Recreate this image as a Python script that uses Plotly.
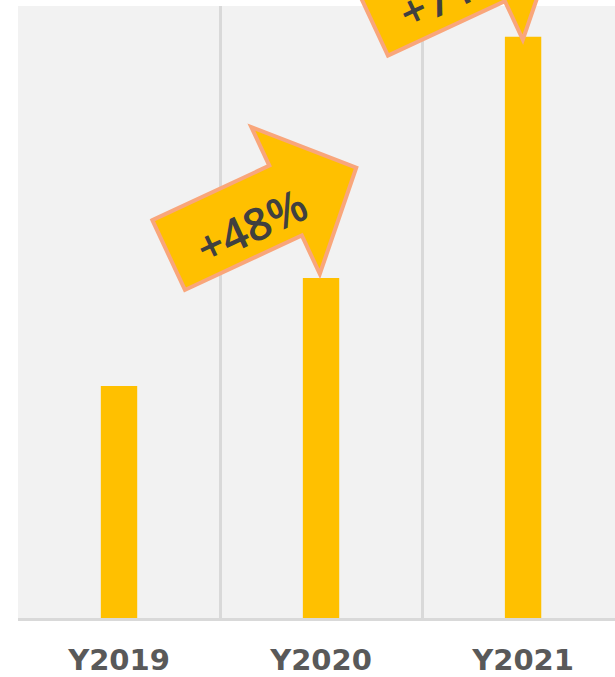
import math
import plotly.graph_objects as go

# ---- data ----
categories = ["Y2019", "Y2020", "Y2021"]
values = [40, 58.6, 100.2]
growth_labels = ["+48%", "+71%"]
growth_targets = [1, 2]          # index of the bar each growth arrow points at

# ---- styling ----
Y_MAX = 105.5
X_RANGE = [-0.5, 2.455]
BAR_COLOR = "#FFC000"
ARROW_FILL = "#FFC000"
ARROW_LINE = "#F9A67B"
BG = "#F2F2F2"
GRID = "#D9D9D9"
tip_nudges = [(-2, 1), (-1, -6)]  # pixel nudges of the arrow tip vs bar top (dx, dy_up)

theta = math.radians(25)
ux, uy = math.cos(theta), math.sin(theta)      # along shaft (y up)
wx, wy = math.sin(theta), -math.cos(theta)     # perpendicular, pointing "down" (y up)

# arrow outline in local coords (u along shaft, v across), anchor = lower barb tip
W_C = -83.5
local_pts = [(-127, -38.5), (2, -38.5), (2, -81), (80, 0), (2, 81), (2, 38.5), (-127, 38.5)]


def to_px(u, v):
    w = W_C + v
    return (u * ux + w * wx, u * uy + w * wy)


def paper_x(i):
    return (i - X_RANGE[0]) / (X_RANGE[1] - X_RANGE[0])


def paper_y(v):
    return v / Y_MAX


fig = go.Figure(
    go.Bar(
        x=categories,
        y=values,
        width=0.18,
        marker=dict(color=BAR_COLOR, line=dict(width=0)),
        hoverinfo="skip",
    )
)

shapes = []
annotations = []
for lab, tgt, (ndx, ndy) in zip(growth_labels, growth_targets, tip_nudges):
    pts = [to_px(u, v) for u, v in local_pts]
    pts = [(x + ndx, y + ndy) for x, y in pts]
    path = "M " + " L ".join(f"{x:.2f},{y:.2f}" for x, y in pts) + " Z"
    shapes.append(
        dict(
            type="path",
            xref="paper",
            yref="paper",
            xsizemode="pixel",
            ysizemode="pixel",
            xanchor=paper_x(tgt),
            yanchor=paper_y(values[tgt]),
            path=path,
            fillcolor=ARROW_FILL,
            line=dict(color=ARROW_LINE, width=4),
            layer="above",
        )
    )
    tx, ty = to_px(-40, 7.5)
    annotations.append(
        dict(
            xref="paper",
            yref="paper",
            x=paper_x(tgt),
            y=paper_y(values[tgt]),
            xshift=tx + ndx,
            yshift=ty + ndy,
            text=lab,
            showarrow=False,
            textangle=-25,
            xanchor="center",
            yanchor="middle",
            font=dict(family="Open Sans", size=45, color="#404040", weight=600),
        )
    )

fig.update_layout(
    width=615,
    height=677,
    margin=dict(l=18, r=0, t=6, b=59, autoexpand=False),
    paper_bgcolor="white",
    plot_bgcolor=BG,
    showlegend=False,
    shapes=shapes,
    annotations=annotations,
    xaxis=dict(
        type="category",
        range=X_RANGE,
        tickson="boundaries",
        showgrid=True,
        gridcolor=GRID,
        gridwidth=2.5,
        showline=True,
        linecolor=GRID,
        linewidth=2.5,
        ticks="",
        automargin=False,
        ticklabelstandoff=14,
        tickfont=dict(family="DejaVu Sans", size=29, color="#595959", weight="bold"),
        fixedrange=True,
    ),
    yaxis=dict(
        range=[0, Y_MAX],
        showgrid=False,
        zeroline=False,
        showticklabels=False,
        ticks="",
        automargin=False,
        fixedrange=True,
    ),
)

fig.write_html(
    "out.html",
    config={"displayModeBar": False},
    post_script="document.body.style.margin='0';",
)
